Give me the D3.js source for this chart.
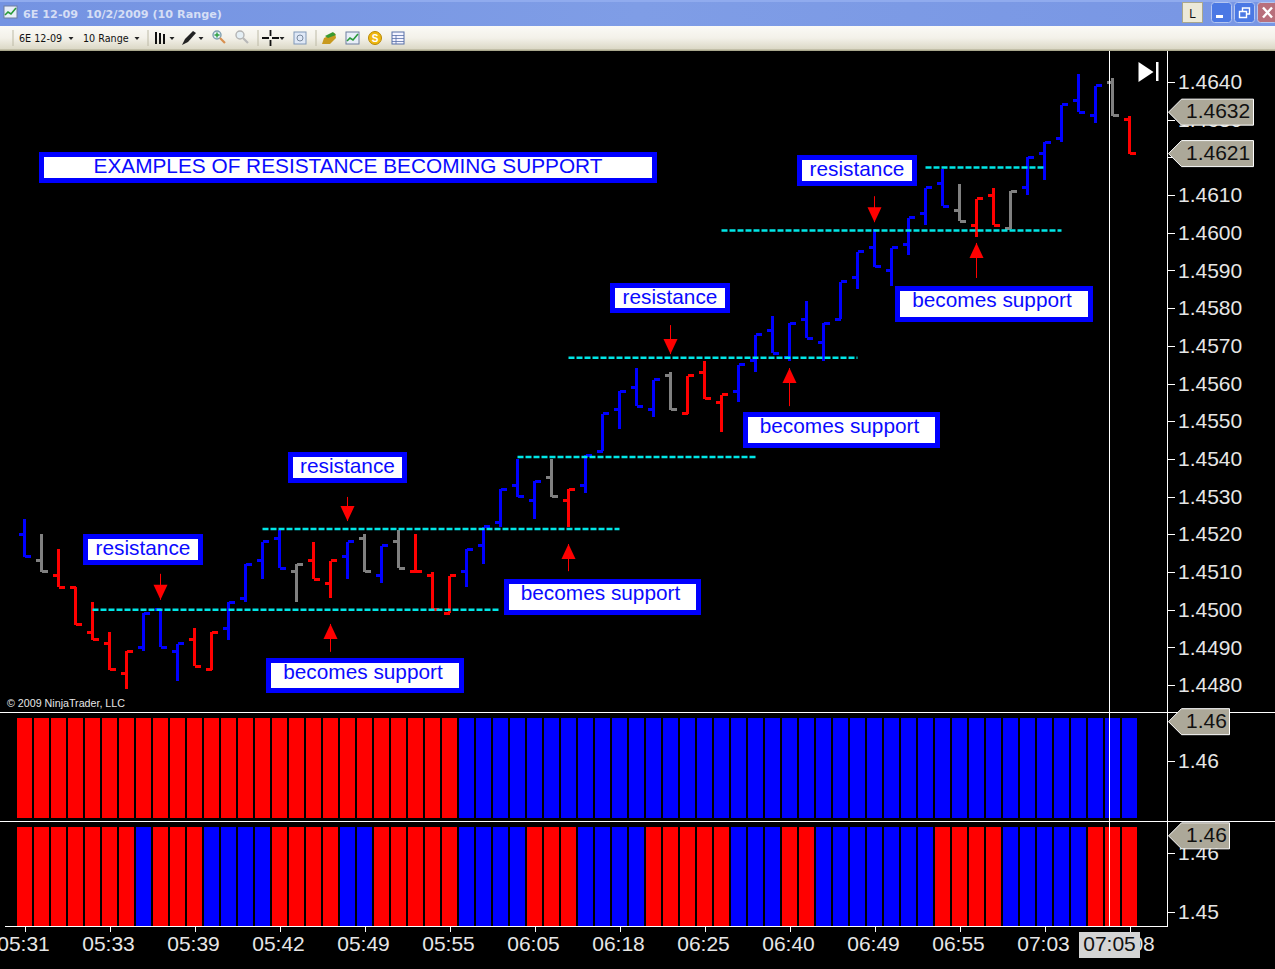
<!DOCTYPE html>
<html>
<head>
<meta charset="utf-8">
<title>6E 12-09</title>
<script src="https://cdn.jsdelivr.net/npm/d3@7"></script>
<style>
  html, body { margin: 0; padding: 0; background: #000; overflow: hidden; }
  svg { display: block; font-family: "Liberation Sans", Arial, sans-serif; }
  .axis text { fill: #e6e6e6; font-size: 21px; font-family: "Liberation Sans", Arial, sans-serif; }
  .axis line, .axis path { stroke: #fff; shape-rendering: crispEdges; }
</style>
</head>
<body>
<svg id="chart" width="1275" height="969"></svg>
<script>
// values, one entry per 10 range bar
const opens  = [1.4520,1.4513,1.4509,1.4506,1.4494,1.4491,1.4483,1.4490,1.4500,1.4489,1.4492,1.4484,1.4495,1.4503,1.4513,1.4519,1.4510,1.4513,1.4507,1.4514,1.4519,1.4509,1.4518,1.4510,1.4509,1.4499,1.4510,1.4517,1.4523,1.4533,1.4529,1.4535,1.4529,1.4533,1.4542,1.4553,1.4559,1.4553,1.4562,1.4552,1.4563,1.4555,1.4558,1.4566,1.4574,1.4567,1.4577,1.4571,1.4577,1.4588,1.4596,1.4590,1.4597,1.4605,1.4613,1.4606,1.4602,1.4610,1.4601,1.4612,1.4621,1.4625,1.4635,1.4631,1.4640,1.4630];
const highs  = [1.4524,1.4520,1.4516,1.4506,1.4502,1.4494,1.4489,1.4499,1.4500,1.4491,1.4495,1.4494,1.4502,1.4512,1.4518,1.4521,1.4512,1.4518,1.4513,1.4518,1.4520,1.4517,1.4521,1.4520,1.4510,1.4509,1.4516,1.4522,1.4532,1.4540,1.4534,1.4540,1.4532,1.4541,1.4552,1.4558,1.4564,1.4561,1.4563,1.4562,1.4566,1.4557,1.4565,1.4573,1.4578,1.4576,1.4582,1.4576,1.4587,1.4595,1.4601,1.4596,1.4604,1.4612,1.4617,1.4613,1.4609,1.4612,1.4611,1.4620,1.4624,1.4634,1.4642,1.4639,1.4641,1.4631];
const lows   = [1.4514,1.4510,1.4506,1.4496,1.4492,1.4484,1.4479,1.4489,1.4490,1.4481,1.4485,1.4484,1.4492,1.4502,1.4508,1.4511,1.4502,1.4508,1.4503,1.4508,1.4510,1.4507,1.4511,1.4510,1.4500,1.4499,1.4506,1.4512,1.4522,1.4530,1.4524,1.4530,1.4522,1.4531,1.4542,1.4548,1.4554,1.4551,1.4553,1.4552,1.4556,1.4547,1.4555,1.4563,1.4568,1.4566,1.4572,1.4566,1.4577,1.4585,1.4591,1.4586,1.4594,1.4602,1.4607,1.4603,1.4599,1.4602,1.4601,1.4610,1.4614,1.4624,1.4632,1.4629,1.4631,1.4621];
const closes = [1.4514,1.4510,1.4506,1.4496,1.4492,1.4484,1.4489,1.4499,1.4490,1.4491,1.4485,1.4494,1.4502,1.4512,1.4518,1.4511,1.4512,1.4508,1.4513,1.4518,1.4510,1.4517,1.4511,1.4510,1.4500,1.4509,1.4516,1.4522,1.4532,1.4530,1.4534,1.4530,1.4532,1.4541,1.4552,1.4558,1.4554,1.4561,1.4553,1.4562,1.4556,1.4557,1.4565,1.4573,1.4568,1.4576,1.4572,1.4576,1.4587,1.4595,1.4591,1.4596,1.4604,1.4612,1.4607,1.4603,1.4609,1.4602,1.4611,1.4620,1.4624,1.4634,1.4632,1.4639,1.4631,1.4621];
const barColors = 'bgrrrrrbbbrrbbbbgrrbgbgrrrbbbbbgrbbbbbgrrrbbbbbbbbbbbbbgrrgbbbbbgr'.split('');
const panelOne = 'rrrrrrrrrrrrrrrrrrrrrrrrrrbbbbbbbbbbbbbbbbbbbbbbbbbbbbbbbbbbbbbbbb'.split('');
const panelTwo = 'rrrrrrrbrrrbbbbrrrrbbrrrrrbbbbrrrbbbbrrrrrbbbrrbbbbbbbrrrrbbbbbrrr'.split('');

const priceTicks = [1.448,1.449,1.450,1.451,1.452,1.453,1.454,1.455,1.456,1.457,1.458,1.459,1.460,1.461,1.462,1.463,1.464];
const timeLabels = ['05:31','05:33','05:39','05:42','05:49','05:55','06:05','06:18','06:25','06:40','06:49','06:55','07:03','07:08'];
const priceTags = [1.4632, 1.4621];

// dashed levels: price, first bar, last bar
const levelPrices = [1.4500, 1.45214, 1.45405, 1.45668, 1.46006, 1.46173];
const levelStart  = [4, 14, 29, 32, 41, 53];
const levelEnd    = [28, 35, 43, 49, 61, 60];

// red arrows: bar, price of tip, price of tail
const arrowBars  = [8, 18, 19, 32, 38, 45, 50, 56];
const arrowTips  = [1.45026, 1.44962, 1.45235, 1.45174, 1.45678, 1.45641, 1.46028, 1.45973];
const arrowTails = [1.45095, 1.44888, 1.45299, 1.45102, 1.45755, 1.45540, 1.46097, 1.45880];

const noteTexts = ['EXAMPLES OF RESISTANCE BECOMING SUPPORT','resistance','resistance','resistance','resistance','becomes support','becomes support','becomes support','becomes support'];

const colorOf = { b: '#0000ff', g: '#808080', r: '#ff0000' };
const W = 1275, H = 969, axisX = 1167.5, chartTop = 51, axisY = 926;

const svg = d3.select('#chart');
const defs = svg.append('defs');

function gradient(id, x2, y2, stops) {
  const g = defs.append('linearGradient').attr('id', id)
    .attr('x1', 0).attr('y1', 0).attr('x2', x2).attr('y2', y2);
  stops.forEach(s => g.append('stop').attr('offset', s[0]).attr('stop-color', s[1]));
}
gradient('titleGrad', 1, 0, [[0, '#7493e2'], [0.5, '#7f9de6'], [1, '#7896e4']]);
gradient('toolGrad', 0, 1, [[0, '#fbfaf6'], [0.5, '#f3f1e9'], [1, '#d9d6c3']]);

// ---- window chrome
svg.append('rect').attr('width', W).attr('height', H).attr('fill', '#000');
svg.append('rect').attr('width', W).attr('height', 26).attr('fill', 'url(#titleGrad)');
svg.append('rect').attr('width', W).attr('height', 2).attr('fill', '#90abee');
svg.append('rect').attr('y', 26).attr('width', W).attr('height', 24).attr('fill', 'url(#toolGrad)');
svg.append('rect').attr('y', 49.5).attr('width', W).attr('height', 1.5).attr('fill', '#a9a78c');

svg.append('text').attr('x', 23).attr('y', 18).text('6E 12-09  10/2/2009 (10 Range)')
  .attr('xml:space', 'preserve').style('white-space', 'pre')
  .attr('font-family', '"DejaVu Sans"').attr('font-weight', 'bold').attr('font-size', 11.2).attr('fill', '#d5def5');

function chartIcon(g, x, y) {
  g.append('rect').attr('x', x).attr('y', y).attr('width', 13).attr('height', 12).attr('fill', '#e8eef8').attr('stroke', '#6f7f9f');
  g.append('path').attr('d', `M${x + 1},${y + 9} l3,-3 l3,2 l5,-6`).attr('fill', 'none').attr('stroke', '#2a9a3a').attr('stroke-width', 1.6);
}
chartIcon(svg, 4, 6);

const tb = svg.append('g');
const tbText = (x, t) => tb.append('text').attr('x', x).attr('y', 42).text(t).attr('font-size', 10.5).attr('fill', '#111').attr('font-family', '"DejaVu Sans"');
tbText(19, '6E 12-09').attr('font-size', 9.6);
tbText(83, '10 Range').attr('font-size', 9.6);
[71, 137, 172, 201, 282].forEach(x => tb.append('path').attr('d', `M${x - 2.5},37 h5 l-2.5,3 z`).attr('fill', '#222'));
[13, 148, 258, 316].forEach(x => tb.append('line').attr('x1', x).attr('x2', x).attr('y1', 30).attr('y2', 46).attr('stroke', '#bdbaa6'));
// bars icon
[156, 160, 164].forEach((x, i) => tb.append('line').attr('x1', x).attr('x2', x).attr('y1', 32 + i).attr('y2', 44).attr('stroke', '#111').attr('stroke-width', 2));
// pen icon
tb.append('path').attr('d', 'M182,45 l3,-6 l8,-8 l3,2 l-8,9 z').attr('fill', '#222');
// zoom icons
function lens(x, col, handle) {
  tb.append('circle').attr('cx', x).attr('cy', 35).attr('r', 4).attr('fill', '#e4eef4').attr('stroke', col).attr('stroke-width', 1.4);
  tb.append('line').attr('x1', x + 3).attr('y1', 38).attr('x2', x + 8).attr('y2', 43).attr('stroke', handle).attr('stroke-width', 2.2);
}
lens(217, '#7f9fb0', '#d89050');
tb.append('path').attr('d', 'M214.5,35 h5 M217,32.5 v5').attr('stroke', '#2aa040').attr('stroke-width', 1.4);
lens(240, '#b4b4b4', '#b8b8b8');
// crosshair icon
tb.append('path').attr('d', 'M262,38 h7 M272,38 h7 M270.5,30 v6 M270.5,40 v6').attr('stroke', '#111').attr('stroke-width', 1.8);
// doc icon
tb.append('rect').attr('x', 294).attr('y', 32).attr('width', 12).attr('height', 12).attr('fill', '#dfe8f6').attr('stroke', '#8098b8');
tb.append('circle').attr('cx', 300).attr('cy', 38).attr('r', 3).attr('fill', 'none').attr('stroke', '#7a8aa0');
// money icon
tb.append('path').attr('d', 'M322,44 l2,-6 l11,-5 l1,5 l-6,6 z').attr('fill', '#c89a20');
tb.append('path').attr('d', 'M325,36 l8,-4 l3,3 l-8,3 z').attr('fill', '#3a9a30');
chartIcon(tb, 346, 32);
tb.append('circle').attr('cx', 375).attr('cy', 38).attr('r', 6.5).attr('fill', '#f0b810').attr('stroke', '#b88a08');
tb.append('text').attr('x', 375).attr('y', 42).attr('text-anchor', 'middle').attr('font-size', 10).attr('font-weight', 'bold').attr('fill', '#fff').text('S');
tb.append('rect').attr('x', 392).attr('y', 32).attr('width', 12).attr('height', 12).attr('fill', '#f4f4ff').attr('stroke', '#5870a8');
tb.append('path').attr('d', 'M392,35.5 h12 M392,38.5 h12 M392,41.5 h12 M396,35 v9').attr('stroke', '#5870a8').attr('stroke-width', 0.8);

// title bar buttons
svg.append('rect').attr('x', 1182.5).attr('y', 2.5).attr('width', 20).attr('height', 20).attr('fill', '#ece9d8').attr('stroke', '#a9a78c');
svg.append('text').attr('x', 1192.5).attr('y', 18).attr('text-anchor', 'middle').attr('font-size', 12).attr('fill', '#111').text('L');
[[1211.5, '#4a78e4'], [1234.5, '#4a78e4'], [1257.5, '#b8707c']].forEach(b =>
  svg.append('rect').attr('x', b[0]).attr('y', 2.5).attr('width', 20).attr('height', 20).attr('rx', 3).attr('fill', b[1]).attr('stroke', '#b4c6f0'));
svg.append('rect').attr('x', 1216).attr('y', 15).attr('width', 7).attr('height', 3).attr('fill', '#fff');
svg.append('path').attr('d', 'M1239.5,11.5 h7 v6 h-7 z M1242.5,11 v-3 h7 v6 h-3').attr('fill', 'none').attr('stroke', '#fff').attr('stroke-width', 1.4);
svg.append('path').attr('d', 'M1263,7.5 l9,10 M1272,7.5 l-9,10').attr('stroke', '#fff').attr('stroke-width', 2.4);

// ---- scales
const x = d3.scaleLinear().domain([0, 65]).range([24.5, 1129.5]);
const y = d3.scaleLinear().domain([1.448, 1.464]).range([685, 82]);
const band = d3.scaleBand().domain(d3.range(panelOne.length)).range([17, 1137]).paddingInner(2 / 17);
const yOne = d3.scaleLinear().domain([1.4554, 1.4635]).range([817.5, 718]);
const yTwo = d3.scaleLinear().domain([1.4476, 1.4644]).range([926, 827]);

// ---- price bars
const bars = svg.append('g').attr('shape-rendering', 'crispEdges').attr('stroke-width', 3);
opens.forEach((o, i) => {
  const g = bars.append('g').attr('stroke', colorOf[barColors[i]]);
  g.append('line').attr('x1', x(i)).attr('x2', x(i)).attr('y1', y(highs[i])).attr('y2', y(lows[i]));
  g.append('line').attr('x1', x(i) - 6).attr('x2', x(i)).attr('y1', y(o)).attr('y2', y(o));
  g.append('line').attr('x1', x(i)).attr('x2', x(i) + 6).attr('y1', y(closes[i])).attr('y2', y(closes[i]));
});

// ---- dashed levels
svg.append('g').selectAll('line').data(levelPrices).join('line')
  .attr('x1', (d, i) => x(levelStart[i])).attr('x2', (d, i) => x(levelEnd[i]))
  .attr('y1', d => y(d)).attr('y2', d => y(d))
  .attr('stroke', '#00e6e6').attr('stroke-width', 2.5).attr('stroke-dasharray', '6,2');

// ---- arrows
arrowBars.forEach((b, i) => {
  const cx = x(b), tip = y(arrowTips[i]), tail = y(arrowTails[i]);
  const dir = tail > tip ? 1 : -1;
  svg.append('line').attr('x1', cx).attr('x2', cx).attr('y1', tail).attr('y2', tip)
    .attr('stroke', '#ff0000').attr('stroke-width', 1);
  svg.append('path').attr('d', `M${cx},${tip} L${cx - 7},${tip + dir * 15} L${cx + 7},${tip + dir * 15} Z`).attr('fill', '#ff0000');
});

// ---- note boxes
const noteBoxes = [
  [39, 152, 618, 31], [83, 534, 120, 31], [288, 452, 119, 31], [610, 283, 120, 30], [797, 155, 120, 31],
  [266, 658, 198, 35], [504, 579, 197, 36], [743, 412, 197, 36], [895, 286, 198, 36]
];
noteTexts.forEach((t, i) => {
  const b = noteBoxes[i];
  svg.append('rect').attr('x', b[0] + 2.5).attr('y', b[1] + 2.5).attr('width', b[2] - 5).attr('height', b[3] - 5)
    .attr('fill', '#fff').attr('stroke', '#0000ff').attr('stroke-width', 5);
  const isLong = b[3] > 32;
  svg.append('text').attr('x', b[0] + b[2] / 2 - (isLong ? 2 : 0)).attr('y', b[1] + 21)
    .attr('text-anchor', 'middle').attr('font-size', 20.8).attr('fill', '#0a0aff').text(t);
});

// ---- lower panels
function signalPanel(values, yScale) {
  svg.append('g').attr('shape-rendering', 'crispEdges').selectAll('rect').data(values).join('rect')
    .attr('x', (d, i) => band(i)).attr('width', band.bandwidth())
    .attr('y', yScale.range()[1]).attr('height', yScale.range()[0] - yScale.range()[1])
    .attr('fill', d => colorOf[d]);
}
signalPanel(panelOne, yOne);
signalPanel(panelTwo, yTwo);

// ---- axes
svg.append('text').attr('x', 7).attr('y', 707).attr('font-size', 10.7).attr('fill', '#e6e6e6').text('\u00a9 2009 NinjaTrader, LLC');

const priceAxis = d3.axisRight(y).tickValues(priceTicks).tickFormat(d3.format('.4f')).tickSize(7).tickPadding(3.5);
svg.append('g').attr('class', 'axis').attr('transform', `translate(${axisX},0)`).call(priceAxis).call(g => g.select('.domain').remove());

const oneAxis = d3.axisRight(yOne).tickValues([1.46]).tickFormat(d3.format('.2f')).tickSize(7).tickPadding(3.5);
svg.append('g').attr('class', 'axis').attr('transform', `translate(${axisX},0)`).call(oneAxis).call(g => g.select('.domain').remove());
const twoAxis = d3.axisRight(yTwo).tickValues([1.45, 1.46]).tickFormat(d3.format('.2f')).tickSize(7).tickPadding(3.5);
svg.append('g').attr('class', 'axis').attr('transform', `translate(${axisX},0)`).call(twoAxis).call(g => g.select('.domain').remove());

const timeAxis = d3.axisBottom(x).tickValues(timeLabels.map((d, i) => i * 5)).tickFormat(d => timeLabels[d / 5]).tickSize(5).tickPadding(5);
svg.append('g').attr('class', 'axis').attr('transform', `translate(0,${axisY + 0.5})`).call(timeAxis)
  .call(g => g.select('.domain').remove())
  .call(g => g.selectAll('text').attr('dx', -1.5));

const frame = svg.append('g').attr('stroke', '#fff').attr('shape-rendering', 'crispEdges');
frame.append('line').attr('x1', axisX).attr('x2', axisX).attr('y1', chartTop).attr('y2', axisY);
frame.append('line').attr('x1', 5).attr('x2', axisX).attr('y1', axisY + 0.5).attr('y2', axisY + 0.5);

// price tags
function tag(yPos, label, right) {
  const tagG = svg.append('g');
  tagG.append('path').attr('d', `M1168.5,${yPos} L1181.5,${yPos - 13} H${right} V${yPos + 13} H1181.5 Z`)
    .attr('fill', '#aca899').attr('stroke', '#fff');
  tagG.append('text').attr('x', 1186).attr('y', yPos + 6).attr('font-size', 21).attr('fill', '#111').text(label);
}
priceTags.forEach(p => tag(y(p), d3.format('.4f')(p), 1253.5));
tag(yOne(1.4632), '1.46', 1229.5);
tag(yTwo(1.4629), '1.46', 1229.5);

// separators and crosshair go over the panels
frame.append('line').attr('x1', 0).attr('x2', W).attr('y1', 712.5).attr('y2', 712.5);
frame.append('line').attr('x1', 0).attr('x2', W).attr('y1', 821.5).attr('y2', 821.5);
frame.append('line').attr('x1', x(63.85)).attr('x2', x(63.85)).attr('y1', chartTop).attr('y2', axisY);

// crosshair time tag
svg.append('rect').attr('x', 1079).attr('y', 932).attr('width', 61).attr('height', 26).attr('fill', '#d4d4d4');
svg.append('text').attr('x', 1109.5).attr('y', 951).attr('text-anchor', 'middle').attr('font-size', 21).attr('fill', '#111').text('07:05');

// jump to end button
svg.append('path').attr('d', 'M1138.5,62 L1153.5,72 L1138.5,82 Z').attr('fill', '#fff');
svg.append('rect').attr('x', 1156).attr('y', 62).attr('width', 2.5).attr('height', 19).attr('fill', '#fff');
</script>
</body>
</html>
